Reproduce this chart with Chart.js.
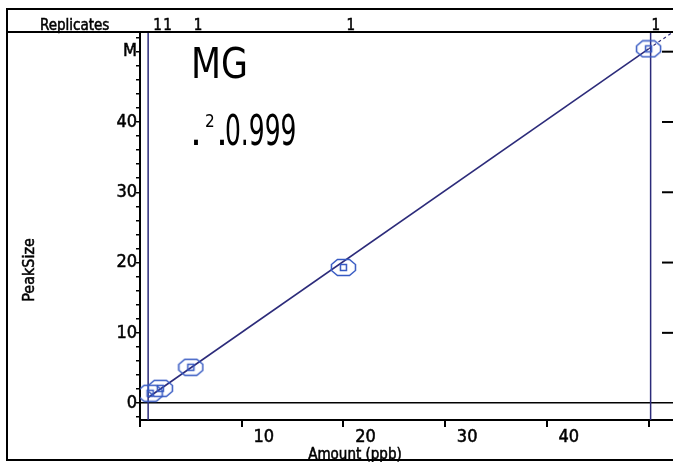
<!DOCTYPE html>
<html>
<head>
<meta charset="utf-8">
<script src="https://cdn.jsdelivr.net/npm/chart.js@4/dist/chart.umd.min.js"></script>
<style>
  body { margin: 0; background: #fff; }
  canvas { display: block; }
</style>
</head>
<body>
<canvas id="calCurve" width="673" height="462"></canvas>
<script>
// calibration levels (Amount ppb vs Peak Size)
const amounts = [1, 2, 5, 20, 50];
const peakSizes = [1.4, 2.1, 5.1, 19.3, 50.4];
const replicates = [1, 1, 1, 1, 1];

// fitted line, solid inside range, dashed past the last level
const fitX = [0.8, 50];
const fitY = [0.8, 50.4];
const extX = [50, 52.4];
const extY = [50.4, 52.8];

// calibration range limits
const rangeX = [0.8, 50.2];

const xMin = 0, xMax = 52.4;
const yMin = -2.4, yMax = 52.8;
const xTicks = [0, 10, 20, 30, 40, 50];
const xTickLabels = ["", "10", "20", "30", "40", ""];
const yMajor = [0, 10, 20, 30, 40, 50];
const yMajorLabels = ["0", "10", "20", "30", "40", "M"];

const navy = "#2c2b7a";
const blue = "#3659c2";
const narrow = "'Liberation Sans Narrow', 'DejaVu Sans Condensed', sans-serif";
const tickFont = { family: narrow, size: 18, weight: "normal" };

function makeMarker() {
    const c = document.createElement("canvas");
    c.width = 27;
    c.height = 19;
    const g = c.getContext("2d");
    g.strokeStyle = blue;
    g.lineWidth = 1.5;
    g.beginPath();
    g.moveTo(7.5, 1.5); g.lineTo(19.5, 1.5); g.lineTo(25.5, 6.5); g.lineTo(25.5, 12.5);
    g.lineTo(19.5, 17.5); g.lineTo(7.5, 17.5); g.lineTo(1.5, 12.5); g.lineTo(1.5, 6.5);
    g.closePath();
    g.stroke();
    g.strokeRect(10.5, 6.5, 6, 6);
    return c;
}

function boldText(ctx, s, x, y) {
    ctx.fillText(s, x, y);
    ctx.strokeText(s, x, y);
}

function squeezed(ctx, s, x, y, sx) {
    ctx.save();
    ctx.translate(x, y);
    ctx.scale(sx, 1);
    ctx.fillText(s, 0, 0);
    ctx.restore();
}

const frame = {
    id: "frame",
    afterDraw(chart) {
        const ctx = chart.ctx;
        const x = chart.scales.x;
        const y = chart.scales.y;
        const area = chart.chartArea;
        ctx.save();

        // right side ticks
        ctx.strokeStyle = "#000";
        ctx.lineWidth = 2;
        yMajor.forEach(v => {
            if (v === 0) return;
            const py = y.getPixelForValue(v);
            ctx.beginPath();
            ctx.moveTo(area.right - 11, py);
            ctx.lineTo(area.right, py);
            ctx.stroke();
        });

        ctx.fillStyle = "#000";
        ctx.lineWidth = 0.5;
        ctx.font = "15px " + narrow;
        ctx.textBaseline = "alphabetic";
        ctx.textAlign = "left";
        boldText(ctx, "Replicates", 40, 30);
        amounts.forEach((a, i) => {
            boldText(ctx, String(replicates[i]), x.getPixelForValue(a) + 3, 30);
        });

        ctx.textBaseline = "top";
        ctx.textAlign = "center";
        boldText(ctx, "Amount (ppb)", 355, 448);

        ctx.save();
        ctx.translate(30, 270);
        ctx.rotate(-Math.PI / 2);
        ctx.textBaseline = "middle";
        ctx.font = "16px " + narrow;
        boldText(ctx, "PeakSize", 0, 0);
        ctx.restore();

        // compound name and r2
        ctx.textAlign = "left";
        ctx.textBaseline = "alphabetic";
        ctx.font = "42px " + narrow;
        squeezed(ctx, "MG", 191, 78, 0.92);
        ctx.fillText(".", 190, 145);
        ctx.fillText(".", 216, 145);
        ctx.font = "17px " + narrow;
        ctx.fillText("2", 205, 127);
        ctx.font = "42px " + narrow;
        squeezed(ctx, "0.999", 225, 145, 0.66);

        // outer frame
        ctx.strokeStyle = "#000";
        ctx.lineWidth = 2;
        ctx.beginPath();
        ctx.moveTo(673, 9); ctx.lineTo(7, 9); ctx.lineTo(7, 460); ctx.lineTo(673, 460);
        ctx.moveTo(7, area.top); ctx.lineTo(673, area.top);
        ctx.stroke();
        ctx.restore();
    }
};

const ctx = document.getElementById("calCurve");

new Chart(ctx, {
    type: "scatter",
    data: {
        datasets: [
            {
                label: "levels",
                data: amounts.map((a, i) => ({ x: a, y: peakSizes[i] })),
                pointStyle: makeMarker(),
                pointRadius: 9,
                showLine: false
            },
            {
                label: "fit",
                data: fitX.map((a, i) => ({ x: a, y: fitY[i] })),
                showLine: true,
                borderColor: navy,
                borderWidth: 1.6,
                pointRadius: 0
            },
            {
                label: "fit ext",
                data: extX.map((a, i) => ({ x: a, y: extY[i] })),
                showLine: true,
                borderColor: navy,
                borderWidth: 1.2,
                borderDash: [3, 3],
                pointRadius: 0
            },
            {
                label: "low limit",
                data: [{ x: rangeX[0], y: yMin }, { x: rangeX[0], y: yMax }],
                showLine: true,
                borderColor: navy,
                borderWidth: 1.5,
                pointRadius: 0
            },
            {
                label: "high limit",
                data: [{ x: rangeX[1], y: yMin }, { x: rangeX[1], y: yMax }],
                showLine: true,
                borderColor: navy,
                borderWidth: 1.5,
                pointRadius: 0
            }
        ]
    },
    options: {
        responsive: false,
        animation: false,
        devicePixelRatio: 1,
        layout: { autoPadding: false, padding: { left: 8, top: 32, right: 0, bottom: 0 } },
        plugins: {
            legend: { display: false },
            tooltip: { enabled: false }
        },
        scales: {
            x: {
                type: "linear",
                min: xMin,
                max: xMax,
                afterBuildTicks: s => { s.ticks = xTicks.map(v => ({ value: v })); },
                afterFit: s => { s.height = 42; },
                ticks: {
                    callback: (v, i) => xTickLabels[i],
                    labelOffset: 22,
                    padding: 0,
                    maxRotation: 0,
                    autoSkip: false,
                    color: "#000",
                    textStrokeColor: "#000",
                    textStrokeWidth: 0.5,
                    font: tickFont
                },
                grid: { drawOnChartArea: false, tickLength: 7, tickColor: "#000", lineWidth: 2 },
                border: { color: "#000", width: 2 }
            },
            y: {
                min: yMin,
                max: yMax,
                afterBuildTicks: s => {
                    const t = [];
                    for (let v = -2; v <= 52; v += 2) t.push({ value: v });
                    s.ticks = t;
                },
                afterFit: s => { s.width = 132; },
                ticks: {
                    callback: v => {
                        const k = yMajor.indexOf(v);
                        return k >= 0 ? yMajorLabels[k] : "";
                    },
                    padding: -1,
                    autoSkip: false,
                    color: "#000",
                    textStrokeColor: "#000",
                    textStrokeWidth: 0.5,
                    font: tickFont
                },
                grid: {
                    color: c => (c.tick && c.tick.value === 0 ? "#000" : "rgba(0,0,0,0)"),
                    tickColor: "#000",
                    tickLength: 4,
                    lineWidth: 1.5
                },
                border: { color: "#000", width: 2 }
            }
        }
    },
    plugins: [frame]
});
</script>
</body>
</html>
